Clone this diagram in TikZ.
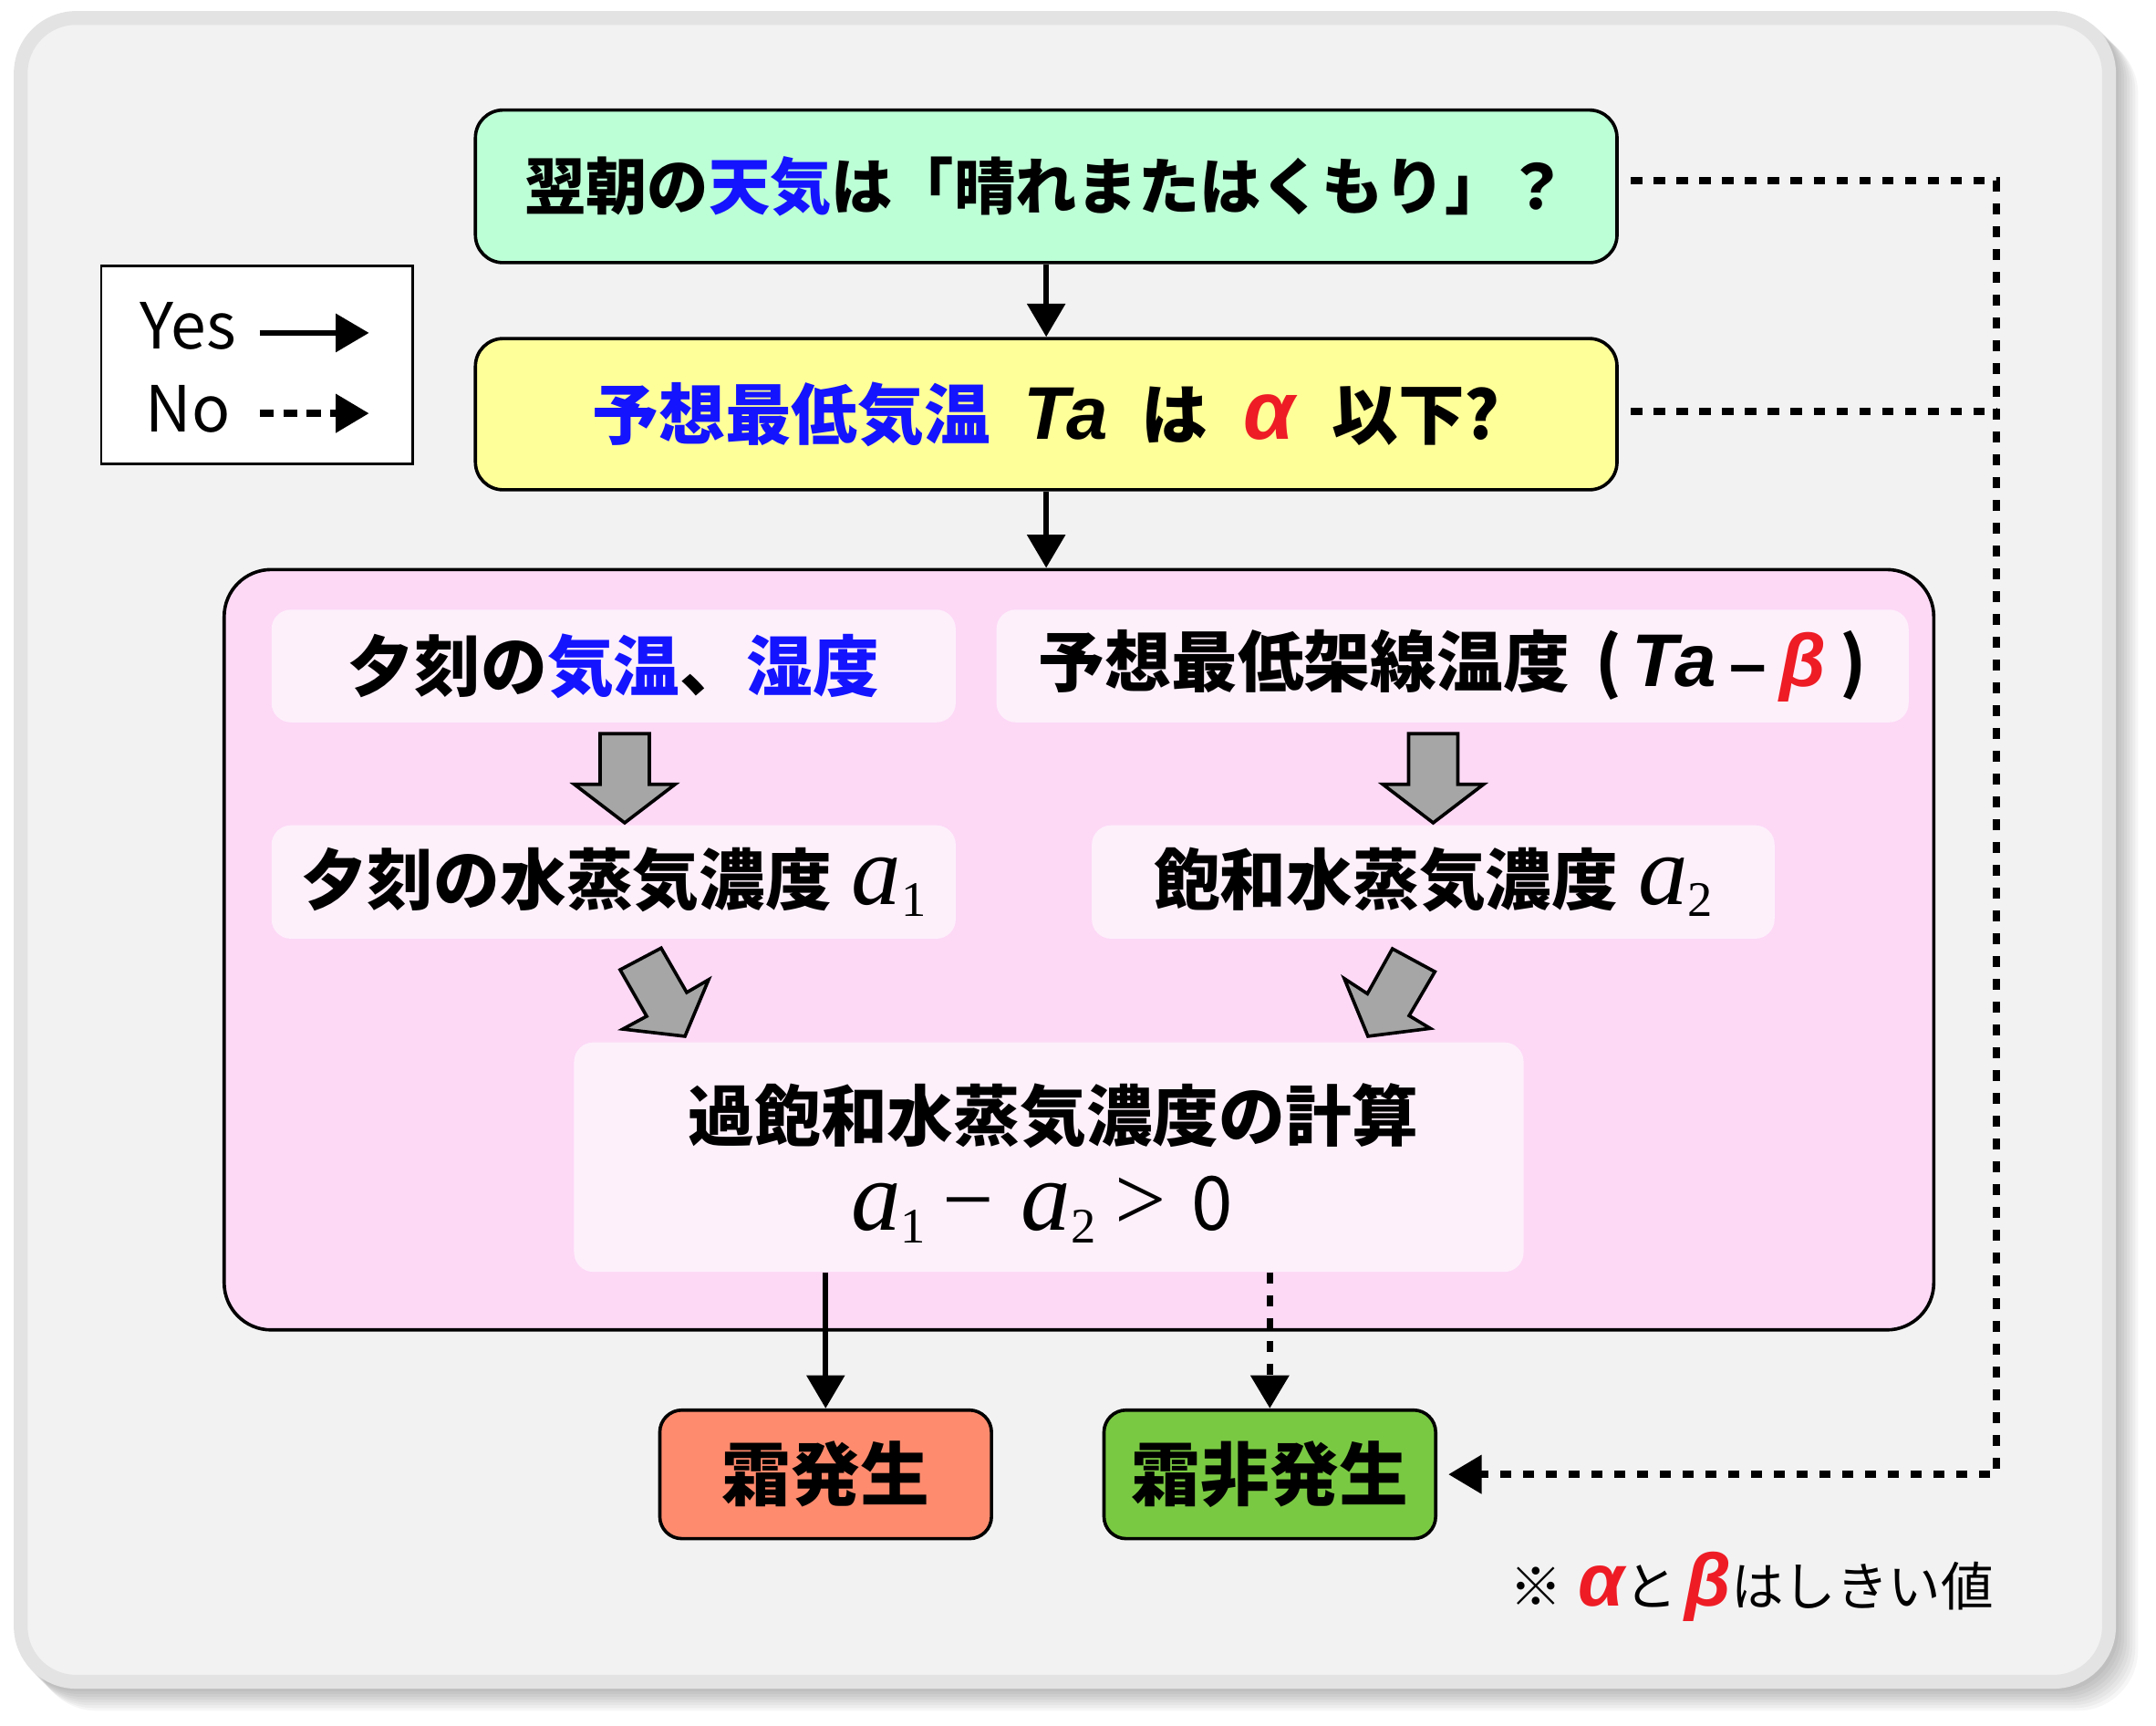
\documentclass[tikz,border=0pt]{standalone}
\usepackage{fontspec}
\usetikzlibrary{arrows.meta}
\newfontfamily\jp{Noto Sans CJK JP}
\newfontfamily\lat{Liberation Sans}
\newfontfamily\tm{Liberation Serif}
\definecolor{bgfill}{HTML}{F2F2F2}
\definecolor{bgline}{HTML}{E3E3E3}
\definecolor{cgreen}{HTML}{BCFFD6}
\definecolor{cyellow}{HTML}{FFFF99}
\definecolor{cpink}{HTML}{FDD9F6}
\definecolor{cinner}{HTML}{FDF0FB}
\definecolor{cgray}{HTML}{A6A6A6}
\definecolor{cfrost}{HTML}{FF8B6E}
\definecolor{cnofrost}{HTML}{7AC943}
\definecolor{cred}{HTML}{EE1C25}
\definecolor{cblue}{RGB}{20,20,255}
\newcommand{\fsz}[1]{\fontsize{#1pt}{#1pt}\selectfont}
\newcommand{\bl}[1]{\textcolor{cblue}{#1}}
\newcommand{\rd}[1]{\textcolor{cred}{#1}}
\newcommand{\gk}[2]{{\lat\bfseries\itshape\fsz{#1}#2}}
\newcommand{\av}[1]{{\tm\mdseries\itshape\fsz{36}a}\raisebox{-4.5pt}{\tm\mdseries\upshape\fsz{18}#1}}
\begin{document}
\begin{tikzpicture}[x=0.5pt, y=-0.5pt,
  >={Triangle[length=12pt,width=13.5pt]},
  qbox/.style={draw=black, line width=1.2pt, rounded corners=10pt, inner sep=0pt, font=\jp\bfseries\fsz{24}},
  inbox/.style={fill=cinner, rounded corners=7pt, inner sep=0pt, font=\jp\bfseries\fsz{24}},
  endbox/.style={draw=black, line width=1.2pt, rounded corners=8pt, inner sep=0pt, minimum width=120pt, minimum height=46.5pt, font=\jp\bfseries\fsz{25}},
  yesline/.style={line width=2pt, ->},
  noline/.style={line width=2.5pt, dash pattern=on 4pt off 4.25pt, ->},
  noplain/.style={line width=2.5pt, dash pattern=on 4pt off 4.25pt},
  legno/.style={line width=2.4pt, dash pattern=on 5pt off 3.5pt, ->},
  blockarr/.style={fill=cgray, draw=black, line width=1.2pt, line join=miter}]
\useasboundingbox (0,0) rectangle (1560,1248.5);
% shadow and frame
\foreach \k in {1,...,8}{\fill[black,opacity=0.035,rounded corners=22pt] (10+2*\k,8+2*\k) rectangle (1531+2*\k,1221.5+2*\k);}
\draw[draw=bgline, fill=bgfill, line width=5pt, rounded corners=20pt] (15,13) rectangle (1526,1216.5);
% legend
\node[draw=black, line width=0.8pt, fill=white, minimum width=112.7pt, minimum height=71.6pt, inner sep=0pt] (legend) at (185.8,264) {};
\node[font=\jp\fsz{23}, inner sep=0pt] (yes) at (136,236) {Yes};
\node[font=\jp\fsz{23}, inner sep=0pt] (no) at (136,296) {No};
\coordinate (ys) at (188,240.8);
\coordinate (ye) at (267,240.8);
\coordinate (ns) at (188,299);
\coordinate (ne) at (267,299);
\draw[yesline] (ys) -- (ye);
\draw[legno] (ns) -- (ne);
% questions
\node[qbox, fill=cgreen, minimum width=413pt, minimum height=55.2pt, font=\jp\bfseries\fsz{22.2}] (q1) at (757,134.8) {翌朝の\bl{天気}は「晴れまたはくもり」？};
\node[qbox, fill=cyellow, minimum width=413pt, minimum height=54.7pt] (q2) at (757,299.6) {\bl{予想最低気温}\hspace{.5em}\gk{27}{Ta}\hspace{.5em}は\hspace{.55em}\rd{\gk{30}{α}}\hspace{.55em}以下?};
% panel
\node[draw=black, line width=1.2pt, fill=cpink, rounded corners=17pt, minimum width=618.5pt, minimum height=275pt, inner sep=0pt] (panel) at (780.7,687) {};
\node[inbox, minimum width=247.5pt, minimum height=40.75pt] (ba) at (444,481.75) {夕刻の\bl{気温}、\bl{湿度}};
\node[inbox, minimum width=330pt, minimum height=40.75pt] (bb) at (1051,481.75) {予想最低架線温度\hspace{.4em}(\hspace{.15em}\gk{27}{Ta}\hspace{.2em}{\lat\fsz{24}–}\hspace{.2em}\rd{\gk{27}{β}}\hspace{.2em})};
\node[inbox, minimum width=247.5pt, minimum height=41pt] (bc) at (444,638) {夕刻の水蒸気濃度\hspace{.3em}\av{1}};
\node[inbox, minimum width=247pt, minimum height=41pt] (bd) at (1037,638) {飽和水蒸気濃度\hspace{.3em}\av{2}};
\node[inbox, minimum width=343.5pt, minimum height=83pt] (be) at (758.9,837) {};
\node[font=\jp\bfseries\fsz{24}, inner sep=0pt] (e1) at (762,807.5) {過飽和水蒸気濃度の計算};
\node[font=\tm\fsz{33}, inner sep=0pt, anchor=base] (e2) at (754,890) {\av{1}\hspace{6pt}−\hspace{10pt}\av{2}\hspace{7pt}>\hspace{9pt}{\jp\fsz{27}0}};
% block arrows
\draw[blockarr] (434.2,530.7) -- (469.8,530.7) -- (469.8,567.3) -- (488.5,567.3) -- (452,595.2) -- (415.5,567.3) -- (434.2,567.3) -- cycle;
\begin{scope}[shift={(585,0)}]
\draw[blockarr] (434.2,530.7) -- (469.8,530.7) -- (469.8,567.3) -- (488.5,567.3) -- (452,595.2) -- (415.5,567.3) -- (434.2,567.3) -- cycle;
\end{scope}
\draw[blockarr] (448.7,701.5) -- (478.4,685.8) -- (496.9,717.9) -- (512.7,708.7) -- (495.6,749.6) -- (450.7,744.4) -- (467.9,735.1) -- cycle;
\draw[blockarr] (1007.5,686.3) -- (1038.2,702.9) -- (1019.6,734.7) -- (1034.9,743.9) -- (989.8,749.6) -- (972.7,707.9) -- (989.4,718.8) -- cycle;
% results
\node[endbox, fill=cfrost] (frost) at (597.4,1066.5) {霜発生};
\node[endbox, fill=cnofrost] (nofrost) at (918.8,1066.5) {霜非発生};
% connectors
\draw[yesline] (q1.south) -- (q2.north);
\draw[yesline] (q2.south) -- (q2.south |- panel.north);
\draw[yesline] (be.south -| frost.north) -- (frost.north);
\draw[noline] (be.south -| nofrost.north) -- (nofrost.north);
\coordinate (rx) at (1444.5,0);
\draw[noline, shorten <=4.5pt, shorten >=4pt] ([yshift=2pt]q1.east) -- ([yshift=2pt]q1.east -| rx) -- (nofrost.east -| rx) -- (nofrost.east);
\draw[noplain, shorten <=4.5pt] ([yshift=1pt]q2.east) -- ([yshift=1pt]q2.east -| rx);
% note
\node[font=\jp\fsz{19}, anchor=west, inner sep=0pt] (note) at (1092,1148) {※\hspace{.3em}\rd{\gk{27}{α}}と\hspace{.15em}\rd{\gk{27}{β}}はしきい値};
\end{tikzpicture}
\end{document}
